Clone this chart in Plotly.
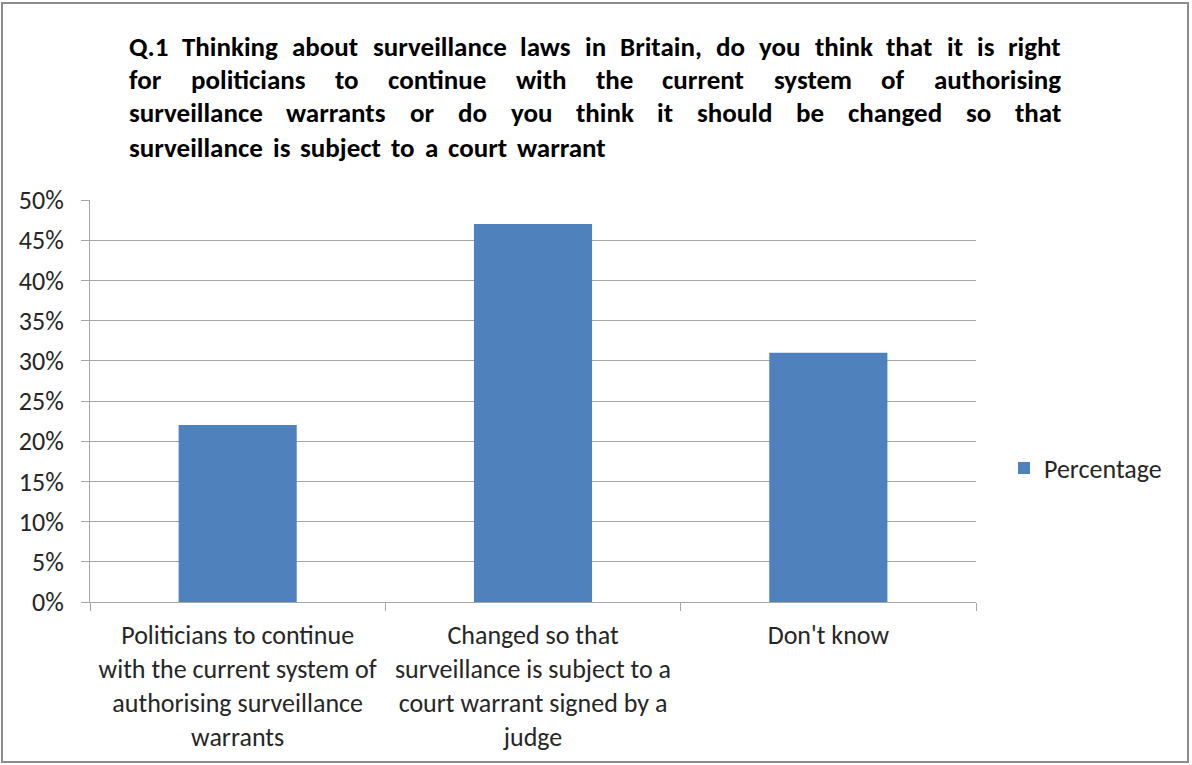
import json
import plotly.graph_objects as go

# Survey responses
categories = [
    "Politicians to continue<br>with the current system of<br>authorising surveillance<br>warrants",
    "Changed so that<br>surveillance is subject to a<br>court warrant signed by a<br>judge",
    "Don't know",
]
percentages = [0.22, 0.47, 0.31]
series_name = "Percentage"

y_ticks = [i * 0.05 for i in range(11)]
y_tick_labels = [f"{i * 5}%" for i in range(11)]

title_lines = [
    "Q.1 Thinking about surveillance laws in Britain, do you think that it is right",
    "for politicians to continue with the current system of authorising",
    "surveillance warrants or do you think it should be changed so that",
    "surveillance is subject to a court warrant",
]

# Canvas geometry (pixels)
W, H = 1192, 765
PL, PR, PT, PB = 90, 976, 200, 602
pw, ph = PR - PL, PB - PT

def px_x(x):
    return (x - PL) / pw

def px_y(y):
    return (PB - y) / ph

FONT = "Carlito, Calibri, Lato, sans-serif"
TEXT = "#262626"
BAR_COLOR = "#4f81bd"
GRID = "#a6a6a6"
FS = 26

fig = go.Figure(
    go.Bar(
        x=categories,
        y=percentages,
        name=series_name,
        marker=dict(color=BAR_COLOR, line=dict(width=0)),
        width=0.4,
        showlegend=True,
    )
)

# Title words: initial start positions; a small script then justifies each
# full line between its edges (the last line keeps a plain word gap).
word_starts = [
    [130, 183, 307, 387, 527, 597, 622, 730, 775, 837, 910, 965, 988, 1017],
    [130, 186, 320, 385, 512, 593, 657, 753, 873, 925],
    [130, 298, 422, 465, 513, 578, 648, 693, 812, 857, 973, 1013],
    [130, 273, 304, 409, 446, 467, 540],
]
line_layout = [
    dict(left=130, right=1062),
    dict(left=130, right=1062),
    dict(left=130, right=1062),
    dict(left=130, gap=10),
]
line_centres = [46, 79, 113, 147]

annotations = []
line_groups = []
for line, starts, yc, lay in zip(title_lines, word_starts, line_centres, line_layout):
    idx = []
    for word, xs in zip(line.split(" "), starts):
        idx.append(len(annotations))
        annotations.append(dict(
            text=f"<b>{word}</b>", x=px_x(xs), y=px_y(yc), xref="paper", yref="paper",
            xanchor="left", yanchor="middle", showarrow=False,
            font=dict(family=FONT, size=27, color="#000000"),
        ))
    line_groups.append(dict(idx=idx, **lay))

fig.update_layout(
    width=W,
    height=H,
    margin=dict(l=PL, r=W - PR, t=PT, b=H - PB),
    paper_bgcolor="white",
    plot_bgcolor="white",
    font=dict(family=FONT, size=FS, color=TEXT),
    annotations=annotations,
    legend=dict(
        x=px_x(1004), y=px_y(468), xanchor="left", yanchor="middle",
        font=dict(family=FONT, size=FS, color=TEXT),
        bgcolor="rgba(0,0,0,0)",
    ),
    shapes=[
        dict(type="rect", xref="paper", yref="paper",
             x0=px_x(2), x1=px_x(1188), y0=px_y(762), y1=px_y(3),
             line=dict(color="#8c8c8c", width=2), fillcolor="rgba(0,0,0,0)"),
    ],
)

fig.update_yaxes(
    range=[0, 0.5],
    tickvals=y_ticks,
    ticktext=y_tick_labels,
    showgrid=True,
    gridcolor=GRID,
    gridwidth=1,
    showline=True,
    linecolor=GRID,
    linewidth=1,
    ticks="outside",
    ticklen=8,
    tickcolor=GRID,
    zeroline=False,
    ticklabelstandoff=12,
    tickfont=dict(family=FONT, size=FS, color=TEXT),
)

fig.update_xaxes(
    showline=True,
    linecolor=GRID,
    linewidth=1,
    ticks="outside",
    tickson="boundaries",
    ticklen=8,
    tickcolor=GRID,
    showgrid=False,
    ticklabelstandoff=10,
    tickfont=dict(family=FONT, size=FS, color=TEXT),
)

justify_js = """
(function () {
  var gd = document.getElementById('{plot_id}');
  var groups = GROUPS;
  var PL = PLVAL, PW = PWVAL, PAD = 3;
  var upd = {};
  groups.forEach(function (g) {
    var widths = g.idx.map(function (i) {
      var t = gd.querySelector('.annotation[data-index="' + i + '"] text.annotation-text');
      return t ? t.getBBox().width : 0;
    });
    if (widths.some(function (w) { return w === 0; })) return;
    var total = widths.reduce(function (a, b) { return a + b; }, 0);
    var gap = (g.gap !== undefined) ? g.gap
              : (g.right - g.left - total) / (g.idx.length - 1);
    var x = g.left;
    g.idx.forEach(function (i, k) {
      upd['annotations[' + i + '].x'] = (x - PAD - PL) / PW;
      x += widths[k] + gap;
    });
  });
  if (Object.keys(upd).length) Plotly.relayout(gd, upd);
})();
""".replace("GROUPS", json.dumps(line_groups)).replace("PLVAL", str(PL)).replace("PWVAL", str(pw))

fig.write_html("out.html", post_script=justify_js)
